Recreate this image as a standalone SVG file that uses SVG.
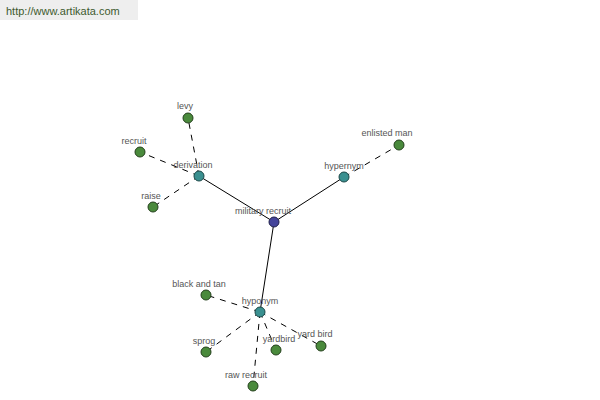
<svg xmlns="http://www.w3.org/2000/svg" width="600" height="400" viewBox="0 0 600 400">
<style>
.lbl{font-family:"Liberation Sans",Arial,sans-serif;font-size:9px;fill:#555;text-anchor:middle}
.leaf{fill:#4a8a3c;stroke:#24401c;stroke-width:1}
.hub{fill:#3a9090;stroke:#1c4848;stroke-width:1}
.root{fill:#44449a;stroke:#20204a;stroke-width:1}
.solid{stroke:#000;stroke-width:1;fill:none}
.dash{stroke:#000;stroke-width:1;fill:none;stroke-dasharray:6,6}
</style>
<rect x="0" y="0" width="138" height="20" fill="#eeeeee"/>
<text x="6" y="15" font-family="Liberation Sans,Arial,sans-serif" font-size="11" fill="#3d5a2e">http://www.artikata.com</text>
<g id="connectors">
<line class="solid" x1="274" y1="222" x2="199" y2="176"/>
<line class="solid" x1="274" y1="222" x2="344" y2="177"/>
<line class="solid" x1="274" y1="222" x2="260" y2="312"/>
<line class="dash" x1="199" y1="176" x2="188" y2="118"/>
<line class="dash" x1="199" y1="176" x2="140" y2="152"/>
<line class="dash" x1="199" y1="176" x2="153" y2="207"/>
<line class="dash" x1="344" y1="177" x2="399" y2="145"/>
<line class="dash" x1="260" y1="312" x2="206" y2="295"/>
<line class="dash" x1="260" y1="312" x2="206" y2="352"/>
<line class="dash" x1="260" y1="312" x2="276" y2="350"/>
<line class="dash" x1="260" y1="312" x2="321" y2="346"/>
<line class="dash" x1="260" y1="312" x2="253" y2="386"/>
</g>
<g id="military-recruit"><circle class="root" cx="274" cy="222" r="5"/><text class="lbl" x="263" y="214">military recruit</text></g>
<g id="derivation"><circle class="hub" cx="199" cy="176" r="5"/><text class="lbl" x="193" y="168">derivation</text></g>
<g id="hypernym"><circle class="hub" cx="344" cy="177" r="5"/><text class="lbl" x="344" y="169">hypernym</text></g>
<g id="hyponym"><circle class="hub" cx="260" cy="312" r="5"/><text class="lbl" x="260" y="304">hyponym</text></g>
<g id="levy"><circle class="leaf" cx="188" cy="118" r="5"/><text class="lbl" x="185" y="109">levy</text></g>
<g id="recruit"><circle class="leaf" cx="140" cy="152" r="5"/><text class="lbl" x="134" y="144">recruit</text></g>
<g id="raise"><circle class="leaf" cx="153" cy="207" r="5"/><text class="lbl" x="151" y="199">raise</text></g>
<g id="enlisted-man"><circle class="leaf" cx="399" cy="145" r="5"/><text class="lbl" x="387" y="136">enlisted man</text></g>
<g id="black-and-tan"><circle class="leaf" cx="206" cy="295" r="5"/><text class="lbl" x="199" y="287">black and tan</text></g>
<g id="sprog"><circle class="leaf" cx="206" cy="352" r="5"/><text class="lbl" x="204" y="344">sprog</text></g>
<g id="yardbird"><circle class="leaf" cx="276" cy="350" r="5"/><text class="lbl" x="279" y="342">yardbird</text></g>
<g id="yard-bird"><circle class="leaf" cx="321" cy="346" r="5"/><text class="lbl" x="315" y="337">yard bird</text></g>
<g id="raw-recruit"><circle class="leaf" cx="253" cy="386" r="5"/><text class="lbl" x="246" y="378">raw recruit</text></g>
</svg>
